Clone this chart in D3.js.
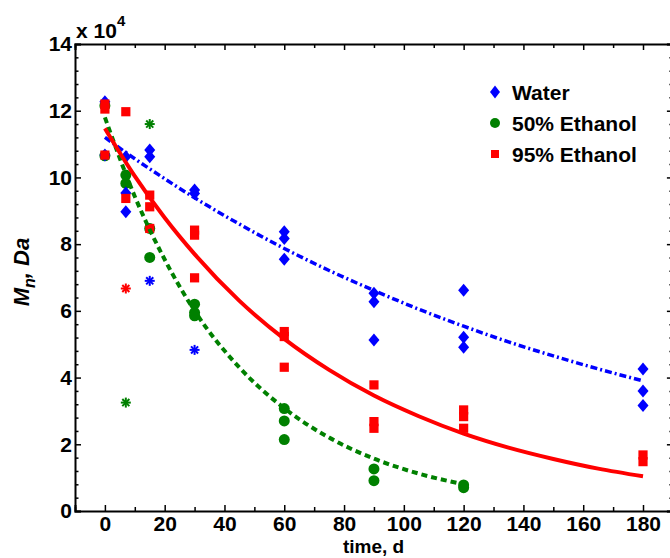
<!DOCTYPE html>
<html><head><meta charset="utf-8">
<script src="https://cdn.jsdelivr.net/npm/d3@7"></script>
<style>body{margin:0;background:#fff}svg{display:block}</style></head>
<body><svg id="c" width="670" height="558"></svg>
<script>
// ---- data (Mn in units of 1e4 Da) ----
const xTicks = [0,20,40,60,80,100,120,140,160,180];
const yTicks = [0,2,4,6,8,10,12,14];
const seriesNames = ["Water","50% Ethanol","95% Ethanol"];

const waterT  = [0,0,7,7,7,15,15,30,30,60,60,60,90,90,90,120,120,120,180,180,180];
const waterMn = [12.27,10.67,10.62,9.53,8.97,10.82,10.62,9.62,9.52,8.37,8.17,7.55,6.53,6.27,5.13,6.62,5.21,4.91,4.26,3.60,3.16];
const waterOutT  = [15,30];
const waterOutMn = [6.90,4.83];

const eth50T  = [0,0,7,7,15,15,30,30,30,60,60,60,90,90,120,120];
const eth50Mn = [12.15,10.65,10.07,9.82,8.47,7.60,6.20,5.95,5.85,3.07,2.70,2.14,1.26,0.91,0.78,0.70];
const eth50OutT  = [7,15];
const eth50OutMn = [3.25,11.60];

const eth95T  = [0,0,0,7,7,15,15,15,30,30,30,60,60,60,90,90,90,120,120,120,180,180];
const eth95Mn = [12.20,12.05,10.67,11.97,9.37,9.47,9.12,8.47,8.42,8.27,6.99,5.38,5.23,4.31,3.78,2.68,2.48,3.03,2.83,2.48,1.68,1.48];
const eth95OutT  = [7];
const eth95OutMn = [6.67];

// fitted curves
const fitT      = [0,10,20,30,45,60,75,90,105,120,135,150,165,180];
const waterFit  = [11.2,10.56,9.96,9.39,8.6,7.87,7.21,6.61,6.05,5.54,5.07,4.65,4.26,3.90];
const eth95Fit  = [11.47,10.04,8.79,7.70,6.30,5.16,4.23,3.46,2.84,2.32,1.90,1.56,1.27,1.04];
const eth50FitT = [0,10,20,30,45,60,75,90,105,120];
const eth50Fit  = [11.8,9.43,7.54,6.0,4.3,3.08,2.2,1.57,1.12,0.80];

// ---- drawing ----
const BLUE="#0000ff", GREEN="#008000", RED="#ff0000";
const FONT="'Liberation Sans', Arial, sans-serif";
const svg = d3.select("#c");
const x = d3.scaleLinear().domain([-10,190]).range([75,672.9]);
const y = d3.scaleLinear().domain([0,14]).range([511,44]);

const zip = (a,b)=>a.map((v,i)=>[v,b[i]]);

function styleAxis(g, labels){
  g.select(".domain").attr("stroke","#000").attr("stroke-width",2);
  g.selectAll(".tick line").attr("stroke","#000").attr("stroke-width",1.5);
  g.selectAll("text").attr("font-family",FONT).attr("font-weight","bold")
    .attr("font-size",21).attr("fill","#000");
  if(!labels) g.selectAll("text").remove();
}
const minorX = d3.range(-10,191,10).filter(v=>!xTicks.includes(v));
const minorY = d3.range(0,14.01,0.4).map(v=>+v.toFixed(1)).filter(v=>!yTicks.includes(v));

// bottom
svg.append("g").attr("transform","translate(0,511)")
  .call(d3.axisBottom(x).tickValues(xTicks).tickSize(-6).tickPadding(5.5).tickFormat(d3.format("d")))
  .call(g=>styleAxis(g,true));
svg.append("g").attr("transform","translate(0,511)")
  .call(d3.axisBottom(x).tickValues(minorX).tickSize(-4).tickFormat(""))
  .call(g=>{styleAxis(g,false);g.select(".domain").remove();});
// top
svg.append("g").attr("transform","translate(0,44)")
  .call(d3.axisTop(x).tickValues(xTicks).tickSize(-6).tickFormat(""))
  .call(g=>styleAxis(g,false));
svg.append("g").attr("transform","translate(0,44)")
  .call(d3.axisTop(x).tickValues(minorX).tickSize(-4).tickFormat(""))
  .call(g=>{styleAxis(g,false);g.select(".domain").remove();});
// left
svg.append("g").attr("transform","translate(75,0)")
  .call(d3.axisLeft(y).tickValues(yTicks).tickSize(-6).tickPadding(3).tickFormat(d3.format("d")))
  .call(g=>styleAxis(g,true));
svg.append("g").attr("transform","translate(75,0)")
  .call(d3.axisLeft(y).tickValues(minorY).tickSize(-3.5).tickFormat(""))
  .call(g=>{styleAxis(g,false);g.select(".domain").remove();});
// right
svg.append("g").attr("transform","translate(672.9,0)")
  .call(d3.axisRight(y).tickValues(yTicks).tickSize(-6).tickFormat(""))
  .call(g=>styleAxis(g,false));
svg.append("g").attr("transform","translate(672.9,0)")
  .call(d3.axisRight(y).tickValues(minorY).tickSize(-3.5).tickFormat(""))
  .call(g=>{styleAxis(g,false);g.select(".domain").remove();});

// x 10^4
const mult = svg.append("text").attr("x",76).attr("y",38)
  .attr("font-family",FONT).attr("font-weight","bold").attr("font-size",21);
mult.append("tspan").text("x 10");
mult.append("tspan").attr("dy",-12).attr("font-size",15).text("4");

// axis titles
svg.append("text").attr("x",373.5).attr("y",553).attr("text-anchor","middle")
  .attr("font-family",FONT).attr("font-weight","bold").attr("font-size",19).text("time, d");
const yl = svg.append("text").attr("transform","translate(29,272) rotate(-90)")
  .attr("text-anchor","middle").attr("font-family",FONT).attr("font-weight","bold")
  .attr("font-style","italic").attr("font-size",22);
yl.append("tspan").text("M");
yl.append("tspan").attr("font-size",16).attr("dy",6).text("n");
yl.append("tspan").attr("dy",-6).text(", Da");

// markers
const diamond = (cx,cy,w,h)=>`M${cx},${cy-h/2}L${cx+w/2},${cy}L${cx},${cy+h/2}L${cx-w/2},${cy}Z`;
function star(g,cx,cy,color){
  const r=5;
  for(let k=0;k<4;k++){
    const a=k*Math.PI/4;
    g.append("line").attr("x1",cx-r*Math.cos(a)).attr("y1",cy-r*Math.sin(a))
      .attr("x2",cx+r*Math.cos(a)).attr("y2",cy+r*Math.sin(a))
      .attr("stroke",color).attr("stroke-width",2);
  }
}
const pts = svg.append("g");
zip(eth50T,eth50Mn).forEach(([t,v])=>pts.append("circle").attr("cx",x(t)).attr("cy",y(v)).attr("r",5.5).attr("fill",GREEN));
zip(waterT,waterMn).forEach(([t,v])=>pts.append("path").attr("d",diamond(x(t),y(v),11,13)).attr("fill",BLUE));
zip(eth95T,eth95Mn).forEach(([t,v])=>pts.append("rect").attr("x",x(t)-4.6).attr("y",y(v)-4.6).attr("width",9.2).attr("height",9.2).attr("fill",RED));
zip(waterOutT,waterOutMn).forEach(([t,v])=>star(pts,x(t),y(v),BLUE));
zip(eth50OutT,eth50OutMn).forEach(([t,v])=>star(pts,x(t),y(v),GREEN));
zip(eth95OutT,eth95OutMn).forEach(([t,v])=>star(pts,x(t),y(v),RED));

// fit lines
const line = d3.line().x(d=>x(d[0])).y(d=>y(d[1])).curve(d3.curveMonotoneX);
svg.append("path").attr("d",line(zip(fitT,waterFit))).attr("fill","none")
  .attr("stroke",BLUE).attr("stroke-width",3.5).attr("stroke-dasharray","7,3,2,3");
svg.append("path").attr("d",line(zip(eth50FitT,eth50Fit))).attr("fill","none")
  .attr("stroke",GREEN).attr("stroke-width",4).attr("stroke-dasharray","6,4");
svg.append("path").attr("d",line(zip(fitT,eth95Fit))).attr("fill","none")
  .attr("stroke",RED).attr("stroke-width",4);

// legend
const lg = svg.append("g");
const ly = [92,123,154];
lg.append("path").attr("d",diamond(495,ly[0],10,13)).attr("fill",BLUE);
lg.append("circle").attr("cx",495).attr("cy",ly[1]).attr("r",5).attr("fill",GREEN);
lg.append("rect").attr("x",491).attr("y",ly[2]-4).attr("width",8).attr("height",8).attr("fill",RED);
seriesNames.forEach((n,i)=>lg.append("text").attr("x",512).attr("y",ly[i]+7.5)
  .attr("font-family",FONT).attr("font-weight","bold").attr("font-size",21).text(n));
</script></body></html>
